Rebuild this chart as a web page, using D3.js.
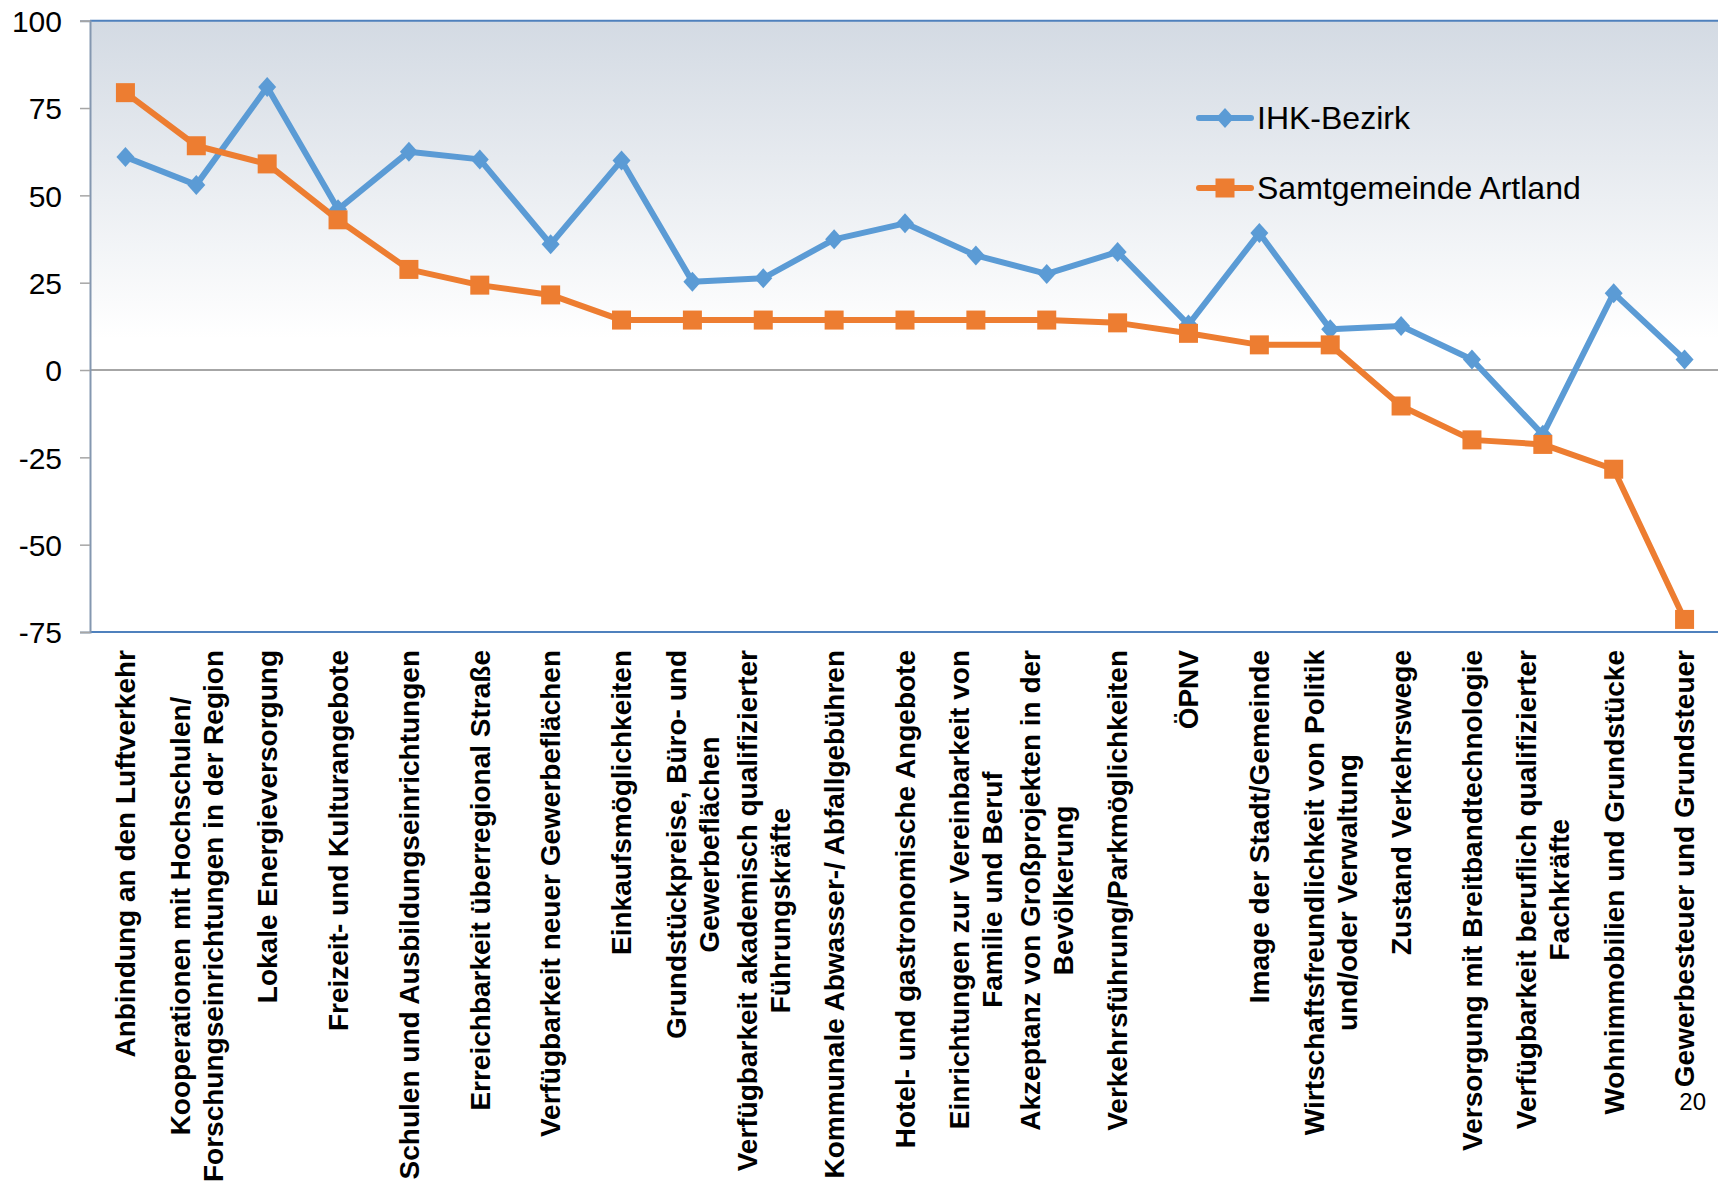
<!DOCTYPE html>
<html>
<head>
<meta charset="utf-8">
<script src="https://cdn.jsdelivr.net/npm/d3@7"></script>
<style>
  body { margin: 0; background: #fff; }
  svg { display: block; font-family: "Liberation Sans", Arial, sans-serif; }
</style>
</head>
<body>
<script>
//data declarations
var categories = [
  ["Anbindung an den Luftverkehr"],
  ["Kooperationen mit Hochschulen/", "Forschungseinrichtungen in der Region"],
  ["Lokale Energieversorgung"],
  ["Freizeit- und Kulturangebote"],
  ["Schulen und Ausbildungseinrichtungen"],
  ["Erreichbarkeit überregional Straße"],
  ["Verfügbarkeit neuer Gewerbeflächen"],
  ["Einkaufsmöglichkeiten"],
  ["Grundstückpreise, Büro- und", "Gewerbeflächen"],
  ["Verfügbarkeit akademisch qualifizierter", "Führungskräfte"],
  ["Kommunale Abwasser-/ Abfallgebühren"],
  ["Hotel- und gastronomische Angebote"],
  ["Einrichtungen zur Vereinbarkeit von", "Familie und Beruf"],
  ["Akzeptanz von Großprojekten in der", "Bevölkerung"],
  ["Verkehrsführung/Parkmöglichkeiten"],
  ["ÖPNV"],
  ["Image der Stadt/Gemeinde"],
  ["Wirtschaftsfreundlichkeit von Politik", "und/oder Verwaltung"],
  ["Zustand Verkehrswege"],
  ["Versorgung mit Breitbandtechnologie"],
  ["Verfügbarkeit beruflich qualifizierter", "Fachkräfte"],
  ["Wohnimmobilien und Grundstücke"],
  ["Gewerbesteuer und Grundsteuer"]
];
var ihkValues = [61, 53, 81, 46, 62.5, 60.3, 36, 60, 25.3, 26.3, 37.4, 42, 32.8, 27.5, 33.8, 13, 39.2, 11.7, 12.6, 3, -18.5, 22, 3];
var artlandValues = [79.4, 64.2, 59, 43, 28.8, 24.3, 21.5, 14.3, 14.3, 14.3, 14.3, 14.3, 14.3, 14.3, 13.5, 10.5, 7.2, 7.2, -10.3, -20, -21.3, -28.4, -71.4];
var yTicks = [100, 75, 50, 25, 0, -25, -50, -75];
var seriesNames = ["IHK-Bezirk", "Samtgemeinde Artland"];
var pageNumber = "20";

//dimensions declarations
var width = 1718;
var height = 1182;
var plot = {left: 90, right: 1720, top: 20.7, bottom: 632};
var blue = "#5b9bd5", orange = "#ed7d31";

var svg = d3.select("body").append("svg")
    .attr("width", width)
    .attr("height", height);

var idx = d3.range(categories.length);
var x = d3.scalePoint().domain(idx).range([plot.left, plot.right]).padding(0.5);
var y = d3.scaleLinear().domain([-75, 100]).range([plot.bottom, plot.top]);

//background gradient
var grad = svg.append("defs").append("linearGradient")
    .attr("id", "bg").attr("x1", 0).attr("y1", 0).attr("x2", 0).attr("y2", 1);
grad.append("stop").attr("offset", "0%").attr("stop-color", "#d3dae3");
grad.append("stop").attr("offset", "52%").attr("stop-color", "#ffffff");
grad.append("stop").attr("offset", "100%").attr("stop-color", "#ffffff");

svg.append("rect")
    .attr("x", plot.left).attr("y", plot.top)
    .attr("width", width - plot.left).attr("height", plot.bottom - plot.top)
    .attr("fill", "url(#bg)");

//zero line
svg.append("line")
    .attr("x1", plot.left).attr("x2", width)
    .attr("y1", y(0)).attr("y2", y(0))
    .attr("stroke", "#a6a6a6").attr("stroke-width", 2);

//top and bottom border
svg.selectAll(".border").data([plot.top, plot.bottom]).enter().append("line")
    .attr("x1", plot.left).attr("x2", width)
    .attr("y1", function(d) { return d; }).attr("y2", function(d) { return d; })
    .attr("stroke", "#4f81bd").attr("stroke-width", 2);

//y axis (plain hyphen for negatives, like the original)
var yAxis = d3.axisLeft(y).tickValues(yTicks).tickSize(10).tickPadding(18)
    .tickFormat(function(d) { return String(d); });
var gy = svg.append("g").attr("transform", "translate(" + plot.left + ",0)").call(yAxis);
gy.select(".domain").attr("stroke", "#8497b0").attr("stroke-width", 2);
gy.selectAll(".tick line").attr("stroke", "#a6a6a6").attr("stroke-width", 1.5);
gy.selectAll(".tick text")
    .attr("font-family", "Liberation Sans, Arial, sans-serif")
    .attr("font-size", 30).attr("fill", "#000")
    .attr("dy", "0.36em");

//category labels, rotated
var labelTop = 650, lineGap = 33;
var lab = svg.append("g").selectAll("g").data(categories).enter().append("g")
    .attr("font-size", 28).attr("font-weight", "bold").attr("fill", "#000");
lab.each(function(lines, i) {
  var g = d3.select(this);
  var texts = g.selectAll("text").data(lines).enter().append("text")
      .attr("text-anchor", "middle")
      .attr("dy", "0.35em")
      .text(function(d) { return d; });
  var maxW = d3.max(texts.nodes(), function(n) { return n.getComputedTextLength(); });
  texts.attr("transform", function(d, j) {
    var cx = x(i) + (j - (lines.length - 1) / 2) * lineGap;
    var cy = labelTop + maxW / 2;
    return "translate(" + cx + "," + cy + ") rotate(-90)";
  });
});

//lines
var line = d3.line()
    .x(function(d, i) { return x(i); })
    .y(function(d) { return y(d); });

svg.append("path").datum(ihkValues)
    .attr("d", line).attr("fill", "none")
    .attr("stroke", blue).attr("stroke-width", 6).attr("stroke-linejoin", "round");
svg.append("path").datum(artlandValues)
    .attr("d", line).attr("fill", "none")
    .attr("stroke", orange).attr("stroke-width", 6).attr("stroke-linejoin", "round");

//markers
var diamond = "M0,-10L9,0L0,10L-9,0Z";
svg.append("g").selectAll("path").data(ihkValues).enter().append("path")
    .attr("d", diamond)
    .attr("transform", function(d, i) { return "translate(" + x(i) + "," + y(d) + ")"; })
    .attr("fill", blue);
svg.append("g").selectAll("rect").data(artlandValues).enter().append("rect")
    .attr("x", function(d, i) { return x(i) - 9.5; })
    .attr("y", function(d) { return y(d) - 9.5; })
    .attr("width", 19).attr("height", 19)
    .attr("fill", orange);

//legend
var legend = svg.append("g").selectAll("g").data(seriesNames).enter().append("g")
    .attr("transform", function(d, i) { return "translate(1199," + (118 + i * 70) + ")"; });
legend.append("line")
    .attr("x1", 0).attr("x2", 52).attr("y1", 0).attr("y2", 0)
    .attr("stroke", function(d, i) { return i ? orange : blue; })
    .attr("stroke-width", 6).attr("stroke-linecap", "round");
legend.filter(function(d, i) { return i === 0; }).append("path")
    .attr("d", diamond).attr("transform", "translate(26,0)").attr("fill", blue);
legend.filter(function(d, i) { return i === 1; }).append("rect")
    .attr("x", 16.5).attr("y", -9.5).attr("width", 19).attr("height", 19).attr("fill", orange);
legend.append("text")
    .attr("x", 58).attr("dy", "0.35em")
    .attr("font-size", 32).attr("fill", "#000")
    .text(function(d) { return d; });

//page number
svg.append("text")
    .attr("x", 1706).attr("y", 1110)
    .attr("text-anchor", "end")
    .attr("font-size", 24).attr("fill", "#000")
    .text(pageNumber);
</script>
</body>
</html>
